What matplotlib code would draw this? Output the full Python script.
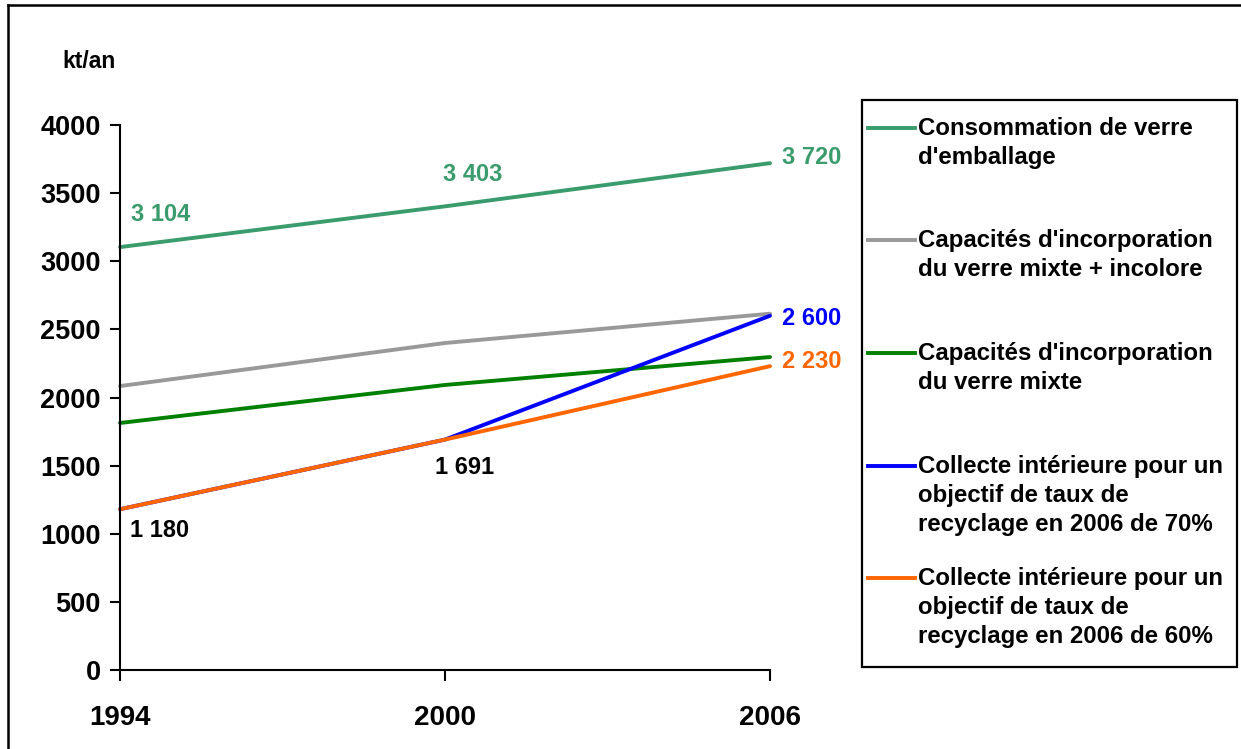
import matplotlib
matplotlib.use("Agg")
import matplotlib.pyplot as plt
from matplotlib.lines import Line2D
from matplotlib.patches import Rectangle

plt.rcParams['font.family'] = ['Liberation Sans', 'DejaVu Sans']
plt.rcParams['font.weight'] = 'bold'

years = [1994, 2000, 2006]
consommation = [3104, 3403, 3720]
capa_mixte_incolore = [2084, 2400, 2615]
capa_mixte = [1813, 2092, 2297]
collecte_70 = [1180, 1691, 2600]
collecte_60 = [1180, 1691, 2230]

series_labels = [
    "Consommation de verre\nd'emballage",
    "Capacités d'incorporation\ndu verre mixte + incolore",
    "Capacités d'incorporation\ndu verre mixte",
    "Collecte intérieure pour un\nobjectif de taux de\nrecyclage en 2006 de 70%",
    "Collecte intérieure pour un\nobjectif de taux de\nrecyclage en 2006 de 60%",
]
series_colors = ['#3a9b6c', '#999999', '#008000', '#0000ff', '#ff6600']
yticks = [0, 500, 1000, 1500, 2000, 2500, 3000, 3500, 4000]


def fmt(v):
    # french thousands separator
    return f"{v:,}".replace(",", " ")


fig = plt.figure(figsize=(12.41, 7.49), dpi=100)
ax = fig.add_axes([120 / 1241, 1 - 670 / 749, 650 / 1241, 545 / 749])

# blue first so the orange 60% line sits on top where they overlap
all_series = [consommation, capa_mixte_incolore, capa_mixte, collecte_70, collecte_60]
for vals, col in zip(all_series, series_colors):
    ax.plot(years, vals, color=col, lw=2.8, clip_on=False, solid_capstyle='round')

ax.set_xlim(1994, 2006)
ax.set_ylim(0, 4000)
ax.set_xticks(years)
ax.set_yticks(yticks)
ax.tick_params(axis='x', direction='out', length=8, width=1.5, pad=17, labelsize=20)
ax.tick_params(axis='y', direction='out', length=7, width=1.5, pad=7, labelsize=19.5)
for lab in ax.get_xticklabels() + ax.get_yticklabels():
    lab.set_fontweight('bold')
for s in ['top', 'right']:
    ax.spines[s].set_visible(False)
for s in ['left', 'bottom']:
    ax.spines[s].set_linewidth(1.5)

# value labels
lfs = 17
ax.annotate(fmt(consommation[0]), (years[0], consommation[0]), xytext=(8, 15),
            textcoords='offset points', color=series_colors[0], fontsize=lfs,
            fontweight='bold', ha='left', va='bottom')
ax.annotate(fmt(consommation[1]), (years[1], consommation[1]), xytext=(20, 15),
            textcoords='offset points', color=series_colors[0], fontsize=lfs,
            fontweight='bold', ha='center', va='bottom')
ax.annotate(fmt(consommation[2]), (years[2], consommation[2]), xytext=(9, 4),
            textcoords='offset points', color=series_colors[0], fontsize=lfs,
            fontweight='bold', ha='left', va='center')
ax.annotate(fmt(collecte_70[2]), (years[2], collecte_70[2]), xytext=(9, -2),
            textcoords='offset points', color=series_colors[3], fontsize=lfs,
            fontweight='bold', ha='left', va='center')
ax.annotate(fmt(collecte_60[2]), (years[2], collecte_60[2]), xytext=(9, 3),
            textcoords='offset points', color=series_colors[4], fontsize=lfs,
            fontweight='bold', ha='left', va='center')
ax.annotate(fmt(collecte_60[1]), (years[1], collecte_60[1]), xytext=(14, -12),
            textcoords='offset points', color='black', fontsize=lfs,
            fontweight='bold', ha='center', va='top')
ax.annotate(fmt(collecte_60[0]), (years[0], collecte_60[0]), xytext=(7, -7),
            textcoords='offset points', color='black', fontsize=lfs,
            fontweight='bold', ha='left', va='top')

fig.text(62 / 1241, 1 - 62 / 749, "kt/an", fontsize=16.5, fontweight='bold',
         ha='left', va='center')

# legend box drawn by hand so the handle sits on the first text line
W, H = 1241, 749
fig.add_artist(Rectangle((862 / W, 1 - 667 / H), (1237 - 862) / W, (667 - 100) / H,
                         transform=fig.transFigure, fill=False, lw=1.6, ec='black'))
entry_y = [128, 240, 353, 466, 578]
for ypx, lab, col in zip(entry_y, series_labels, series_colors):
    fig.add_artist(Line2D([868 / W, 915 / W], [1 - ypx / H] * 2, color=col, lw=2.8,
                          transform=fig.transFigure))
    fig.text(918 / W, 1 - (ypx - 11) / H, lab, fontsize=17.3, fontweight='bold',
             ha='left', va='top', linespacing=1.34)

# outer frame (top and left)
fig.add_artist(Line2D([8 / W, 1], [1 - 5 / H] * 2, color='black', lw=1.8,
                      transform=fig.transFigure))
fig.add_artist(Line2D([8 / W] * 2, [0, 1 - 5 / H], color='black', lw=1.8,
                      transform=fig.transFigure))

fig.savefig("out.png", dpi=100)
